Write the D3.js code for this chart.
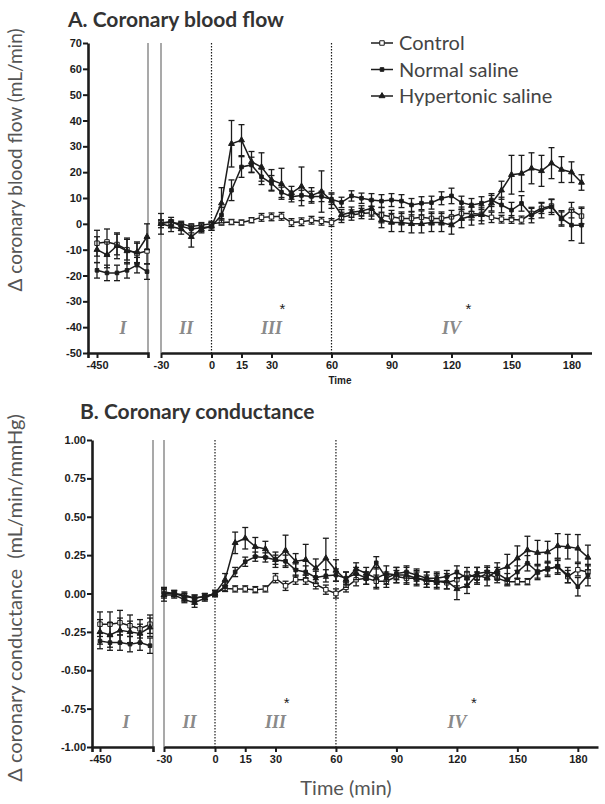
<!DOCTYPE html>
<html>
<head>
<meta charset="utf-8">
<script src="https://cdn.jsdelivr.net/npm/d3@7"></script>
<style>
  body { margin: 0; background: #fff; }
  svg { display: block; }
</style>
</head>
<body>
<div id="chart"></div>
<script>
// sample times (min): 6 baseline points, 5 pre-infusion points, then every 5 min from 0 to 185
const times = [-450, -445, -440, -435, -430, -425,
  -30, -24, -18, -12, -6,
  0, 5, 10, 15, 20, 25, 30, 35, 40, 45, 50, 55,
  60, 65, 70, 75, 80, 85, 90, 95, 100, 105, 110, 115, 120, 125, 130, 135,
  140, 145, 150, 155, 160, 165, 170, 175, 180, 185];

const seriesNames = ['Control', 'Normal saline', 'Hypertonic saline'];

// A. coronary blood flow (mL/min)
const flowControl = [-7.5, -7, -8, -10, -11.5, -10.5,
  0.5, 0.5, 0, -1, -0.5,
  0, 0.5, 0.7, 0.5, 1.4, 2.5, 2.7, 2.9, 0.5, 0.8, 1.4, 1,
  0.5, 2.5, 3.4, 4, 4.3, 3.4, 2.7, 2.1, 2.1, 2.5, 2.1, 2.1, 2.7, 4, 4, 3.7,
  2.5, 1.8, 1.7, 1.5, 4, 6, 6.9, 2.1, 5.3, 3];
const flowSaline = [-18, -19, -19, -18, -16, -18.5,
  0, 1, -1, -2, -1.5,
  -1, 3.4, 13, 22, 22.8, 18.2, 15.7, 12.2, 10.5, 11, 10.6, 10.6,
  9.5, 8.3, 10.8, 9.9, 9.2, 8.8, 9.2, 8.8, 7.3, 8, 8.2, 9.9, 10.8, 8.2, 7.3, 8,
  9.2, 7.3, 5.3, 7.9, 3.4, 5.3, 6.6, 2.1, -0.5, -0.5];
const flowHyper = [-10, -12, -8.5, -10.5, -11, -5,
  0, -1, -2, -5, -2,
  -1, 8, 31, 32.4, 24, 22, 17, 15.5, 12, 14.5, 11, 12.5,
  9, 3.5, 4.5, 5, 6, 1.5, 0.5, 0.5, 0, 0, 0.5, 0.5, -0.5, 2, 3, 3.5,
  8, 13, 19, 19.5, 21.5, 20.5, 23.5, 21, 20, 16];
const flowControlErr = [5, 5, 4, 4, 4, 5,
  1, 1, 1, 1, 1,
  1, 1, 1, 1, 1, 1.5, 1.5, 1.5, 1.5, 1.5, 1.5, 1.5,
  1.5, 2, 2, 2, 2.5, 3, 2.5, 2.5, 2.5, 2.5, 2.5, 2.5, 2.5, 2.5, 2.5, 2.5,
  2, 1.5, 1.5, 1.5, 2, 2, 2.5, 2.5, 3, 3];
const flowSalineErr = [3, 3, 3, 3, 3, 3,
  1.5, 1.5, 1.5, 1.5, 1.5,
  1.5, 3, 4, 4, 3, 3, 3, 2, 2, 2, 2, 2,
  2, 2, 2, 2, 2.5, 2.5, 2.5, 2.5, 2.5, 2.5, 2.5, 2.5, 3, 2.5, 2.5, 2.5,
  2.5, 3, 3, 3, 3, 3, 3, 3, 6, 7];
const flowHyperErr = [5, 5, 5, 5, 4, 5,
  4, 2, 2, 4, 1.5,
  1.5, 6, 9, 6, 4, 5.5, 4, 6, 2.5, 7.5, 3, 8,
  3, 2, 2, 2, 3, 3, 3.5, 3.5, 3.5, 3.5, 3.5, 3.5, 3.5, 3.5, 3.5, 3.5,
  3, 3.5, 7.5, 7, 6, 6, 6, 5, 4, 3];

// B. coronary conductance (mL/min/mmHg)
const condControl = [-0.2, -0.2, -0.19, -0.21, -0.23, -0.2,
  0.01, 0, -0.01, -0.03, -0.02,
  0, 0.033, 0.03, 0.03, 0.025, 0.03, 0.1, 0.05, 0.09, 0.09, 0.06, 0.025,
  0, 0.04, 0.09, 0.1, 0.08, 0.08, 0.11, 0.1, 0.1, 0.08, 0.08, 0.07, 0.09, 0.13, 0.1, 0.13,
  0.1, 0.077, 0.077, 0.077, 0.14, 0.16, 0.175, 0.11, 0.155, 0.14];
const condSaline = [-0.31, -0.32, -0.32, -0.33, -0.32, -0.34,
  0, 0, -0.02, -0.03, -0.02,
  0, 0.044, 0.14, 0.207, 0.24, 0.235, 0.22, 0.21, 0.153, 0.14, 0.105, 0.115,
  0.12, 0.1, 0.13, 0.1, 0.2, 0.1, 0.13, 0.14, 0.12, 0.1, 0.1, 0.11, 0.14, 0.1, 0.13, 0.14,
  0.13, 0.09, 0.14, 0.197, 0.14, 0.16, 0.175, 0.12, 0.044, 0.12];
const condHyper = [-0.25, -0.27, -0.24, -0.25, -0.26, -0.22,
  -0.01, -0.01, -0.04, -0.06, -0.03,
  0, 0.09, 0.33, 0.36, 0.305, 0.29, 0.22, 0.28, 0.21, 0.22, 0.165, 0.23,
  0.15, 0.09, 0.16, 0.13, 0.1, 0.13, 0.12, 0.12, 0.1, 0.09, 0.08, 0.08, 0.03, 0.05, 0.12, 0.1,
  0.15, 0.175, 0.23, 0.283, 0.266, 0.27, 0.31, 0.305, 0.294, 0.235];
const condControlErr = [0.08, 0.08, 0.08, 0.07, 0.06, 0.06,
  0.03, 0.02, 0.02, 0.02, 0.02,
  0.02, 0.02, 0.02, 0.02, 0.02, 0.02, 0.03, 0.03, 0.03, 0.03, 0.03, 0.03,
  0.03, 0.03, 0.04, 0.04, 0.04, 0.04, 0.04, 0.04, 0.04, 0.04, 0.04, 0.04, 0.04, 0.04, 0.04, 0.04,
  0.03, 0.02, 0.02, 0.02, 0.04, 0.04, 0.04, 0.04, 0.04, 0.04];
const condSalineErr = [0.05, 0.05, 0.05, 0.05, 0.05, 0.05,
  0.03, 0.02, 0.02, 0.02, 0.02,
  0.02, 0.03, 0.03, 0.03, 0.03, 0.03, 0.03, 0.04, 0.04, 0.04, 0.04, 0.04,
  0.04, 0.04, 0.04, 0.04, 0.04, 0.04, 0.04, 0.04, 0.04, 0.04, 0.04, 0.04, 0.04, 0.04, 0.04, 0.04,
  0.04, 0.04, 0.04, 0.05, 0.05, 0.05, 0.05, 0.05, 0.06, 0.07];
const condHyperErr = [0.08, 0.08, 0.08, 0.07, 0.06, 0.06,
  0.04, 0.02, 0.02, 0.03, 0.02,
  0.02, 0.04, 0.07, 0.07, 0.06, 0.05, 0.05, 0.1, 0.05, 0.1, 0.06, 0.13,
  0.07, 0.05, 0.04, 0.04, 0.07, 0.05, 0.05, 0.05, 0.05, 0.05, 0.05, 0.05, 0.07, 0.05, 0.05, 0.05,
  0.05, 0.08, 0.08, 0.09, 0.08, 0.07, 0.08, 0.08, 0.09, 0.08];

// axis ticks and phase annotations
const baseTicks = [-450];
const trialTicks = [-30, 0, 15, 30, 60, 90, 120, 150, 180];
const flowTicks = [70, 60, 50, 40, 30, 20, 10, 0, -10, -20, -30, -40, -50];
const condTicks = [1, 0.75, 0.5, 0.25, 0, -0.25, -0.5, -0.75, -1];
const phaseLabels = ['I', 'II', 'III', 'IV'];
const phaseTimes = [-437, -15, 30, 120];
const starTimes = [35, 128];

const width = 605;
const height = 804;
const ink = '#1c1c1c';

const svg = d3.select('#chart')
              .append('svg')
                .attr('width', width)
                .attr('height', height);

const markers = [
  {type: d3.symbolSquare, size: 20, fill: '#fff'},
  {type: d3.symbolSquare, size: 13, fill: ink},
  {type: d3.symbolTriangle, size: 15, fill: ink}
];

function drawPanel(p) {
  const y = d3.scaleLinear().domain(p.yDomain).range(p.yRange);
  const xBase = d3.scaleLinear().domain(p.baseDomain).range(p.baseRange);
  const xTrial = d3.scaleLinear().domain(p.trialDomain).range(p.trialRange);
  const xPos = t => t < -100 ? xBase(t) : xTrial(t);
  const bottom = p.yRange[0];
  const top = p.yRange[1];
  const g = svg.append('g');

  // axis break boundaries
  [p.baseRange[1], p.trialRange[0]].forEach(x => {
    g.append('line')
       .attr('x1', x).attr('x2', x)
       .attr('y1', top).attr('y2', bottom)
       .attr('stroke', '#8c8c8c')
       .attr('stroke-width', 1.5);
  });

  // dotted lines at 0 and 60 min
  [0, 60].forEach(t => {
    g.append('line')
       .attr('x1', xTrial(t)).attr('x2', xTrial(t))
       .attr('y1', top).attr('y2', bottom)
       .attr('stroke', ink)
       .attr('stroke-width', 1.2)
       .attr('stroke-dasharray', '1.5,1.5');
  });

  // phase numerals and stars
  phaseLabels.forEach((lab, i) => {
    g.append('text')
       .attr('x', xPos(phaseTimes[i]))
       .attr('y', p.phaseY)
       .attr('text-anchor', 'middle')
       .attr('font-family', 'Liberation Serif')
       .attr('font-style', 'italic')
       .attr('font-weight', 'bold')
       .attr('font-size', 18)
       .attr('fill', '#8a8a8a')
       .text(lab);
  });
  starTimes.forEach(t => {
    g.append('text')
       .attr('x', xTrial(t) + 1)
       .attr('y', p.phaseY - 20)
       .attr('text-anchor', 'middle')
       .attr('font-family', 'Liberation Sans')
       .attr('font-size', 15)
       .attr('fill', ink)
       .text('*');
  });

  // series: error bars, lines, markers
  p.series.forEach((s, i) => {
    const pts = times.map((t, j) => ({t: t, v: s.values[j], e: s.errors[j]}));
    const segs = [pts.filter(d => d.t < -100), pts.filter(d => d.t >= -100)];

    const bars = g.append('g')
                    .attr('stroke', ink)
                    .attr('stroke-width', 1.3);
    pts.forEach(d => {
      const x = xPos(d.t);
      bars.append('line')
            .attr('x1', x).attr('x2', x)
            .attr('y1', y(d.v - d.e)).attr('y2', y(d.v + d.e));
      [d.v - d.e, d.v + d.e].forEach(c => {
        bars.append('line')
              .attr('x1', x - 3).attr('x2', x + 3)
              .attr('y1', y(c)).attr('y2', y(c));
      });
    });

    const line = d3.line()
                   .x(d => xPos(d.t))
                   .y(d => y(d.v));
    segs.forEach(seg => {
      g.append('path')
         .attr('d', line(seg))
         .attr('fill', 'none')
         .attr('stroke', ink)
         .attr('stroke-width', 1.5);
    });

    const m = markers[i];
    g.selectAll(null)
       .data(pts)
       .enter()
         .append('path')
           .attr('transform', d => `translate(${xPos(d.t)}, ${y(d.v)})`)
           .attr('d', d3.symbol().type(m.type).size(m.size))
           .attr('fill', m.fill)
           .attr('stroke', ink)
           .attr('stroke-width', 1);
  });

  // axes
  const yAxis = g.append('g')
                   .attr('transform', `translate(${p.yAxisX}, 0)`)
                   .call(d3.axisLeft(y)
                           .tickValues(p.yTicks)
                           .tickSize(5)
                           .tickSizeOuter(0)
                           .tickFormat(p.fmt));
  const baseAxis = g.append('g')
                      .attr('transform', `translate(0, ${bottom})`)
                      .call(d3.axisBottom(xBase)
                              .tickValues(baseTicks)
                              .tickSize(5)
                              .tickSizeOuter(5)
                              .tickFormat(d => String(d)));
  const trialAxis = g.append('g')
                       .attr('transform', `translate(0, ${bottom})`)
                       .call(d3.axisBottom(xTrial)
                               .tickValues(trialTicks)
                               .tickSize(5)
                               .tickSizeOuter(0)
                               .tickFormat(d => String(d)));
  [yAxis, baseAxis, trialAxis].forEach(a => {
    a.select('.domain').attr('stroke', ink).attr('stroke-width', 2.6);
    a.selectAll('.tick line').attr('stroke', ink).attr('stroke-width', 2);
    a.selectAll('.tick text')
       .attr('fill', ink)
       .attr('font-family', 'Liberation Sans')
       .attr('font-weight', 'bold')
       .attr('font-size', 11);
  });
  yAxis.selectAll('.tick text').attr('x', -6);

  // titles
  svg.append('text')
       .attr('x', p.titleX)
       .attr('y', p.titleY)
       .attr('font-family', 'Lato')
       .attr('font-weight', 'bold')
       .attr('font-size', 21)
       .attr('fill', '#333')
       .text(p.title);

  svg.append('text')
       .attr('transform', `translate(${p.yLabelX}, ${p.yLabelY}) rotate(-90)`)
       .attr('text-anchor', 'middle')
       .attr('font-family', 'Lato')
       .attr('font-size', p.yLabelSize)
       .attr('fill', '#555')
       .attr('xml:space', 'preserve')
       .text(p.yLabel);

  svg.append('text')
       .attr('x', p.xLabelX)
       .attr('y', p.xLabelY)
       .attr('text-anchor', 'middle')
       .attr('font-family', p.xLabelFont)
       .attr('font-weight', p.xLabelWeight)
       .attr('font-size', p.xLabelSize)
       .attr('fill', p.xLabelColor)
       .text(p.xLabel);
}

drawPanel({
  title: 'A. Coronary blood flow', titleX: 68, titleY: 27,
  yLabel: 'Δ coronary blood flow (mL/min)', yLabelX: 22, yLabelY: 160, yLabelSize: 19,
  xLabel: 'Time', xLabelX: 340, xLabelY: 384, xLabelSize: 10, xLabelWeight: 'bold',
  xLabelFont: 'Liberation Sans', xLabelColor: ink,
  yDomain: [-50, 70], yRange: [353, 43], yAxisX: 88, yTicks: flowTicks, fmt: d => String(d),
  baseDomain: [-454.5, -424.5], baseRange: [88, 148],
  trialDomain: [-30, 0, 190], trialRange: [161, 211.5, 591.5],
  phaseY: 334,
  series: [
    {values: flowControl, errors: flowControlErr},
    {values: flowSaline, errors: flowSalineErr},
    {values: flowHyper, errors: flowHyperErr}
  ]
});

drawPanel({
  title: 'B. Coronary conductance', titleX: 80, titleY: 419,
  yLabel: 'Δ coronary conductance  (mL/min/mmHg)', yLabelX: 22, yLabelY: 598, yLabelSize: 20,
  xLabel: 'Time (min)', xLabelX: 346, xLabelY: 795, xLabelSize: 20, xLabelWeight: 'normal',
  xLabelFont: 'Lato', xLabelColor: '#555',
  yDomain: [-1, 1], yRange: [747, 440], yAxisX: 92, yTicks: condTicks, fmt: d => d.toFixed(2),
  baseDomain: [-454, -423.5], baseRange: [92, 153],
  trialDomain: [-30, 0, 190], trialRange: [164, 215, 598],
  phaseY: 728,
  series: [
    {values: condControl, errors: condControlErr},
    {values: condSaline, errors: condSalineErr},
    {values: condHyper, errors: condHyperErr}
  ]
});

// legend
const legend = svg.append('g');
seriesNames.forEach((name, i) => {
  const ly = 43 + i * 26.5;
  legend.append('line')
          .attr('x1', 371).attr('x2', 393)
          .attr('y1', ly).attr('y2', ly)
          .attr('stroke', ink)
          .attr('stroke-width', 1.5);
  legend.append('path')
          .attr('transform', `translate(382, ${ly})`)
          .attr('d', d3.symbol().type(markers[i].type).size(markers[i].size))
          .attr('fill', markers[i].fill)
          .attr('stroke', ink)
          .attr('stroke-width', 1);
  legend.append('text')
          .attr('x', 399)
          .attr('y', ly + 7)
          .attr('font-family', 'Lato')
          .attr('font-size', 20)
          .attr('fill', '#444')
          .text(name);
});
</script>
</body>
</html>
